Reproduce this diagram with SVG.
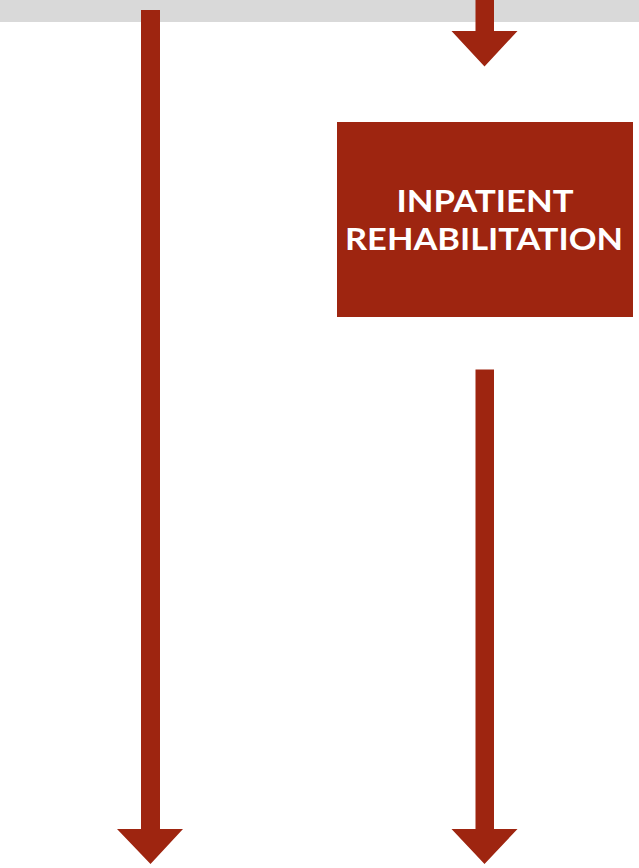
<svg xmlns="http://www.w3.org/2000/svg" width="639" height="868" viewBox="0 0 639 868">
<style>
.arrow{fill:#9E2510}
.box{fill:#9E2510}
.lbl{font-family:Lato,"Open Sans","Liberation Sans",sans-serif;font-weight:bold;font-size:31px;fill:#FFFFFF;text-anchor:middle}
</style>
<rect x="0" y="0" width="639" height="22" fill="#D9D9D9"/>
<g id="connectors">
<polygon class="arrow" points="141,10 160,10 160,829 183,829 150.5,864 117,829 141,829"/>
<polygon class="arrow" points="475.5,0 494,0 494,31 517.5,31 484.5,66.5 451.5,31 475.5,31"/>
<polygon class="arrow" points="475.5,369.5 494,369.5 494,829 517.5,829 484.5,864 451.5,829 475.5,829"/>
</g>
<g id="inpatient-rehabilitation">
<rect class="box" x="337" y="122" width="296" height="195"/>
<text class="lbl" x="485" y="212" textLength="177" lengthAdjust="spacingAndGlyphs">INPATIENT</text>
<text class="lbl" x="484" y="249.5" textLength="278" lengthAdjust="spacingAndGlyphs">REHABILITATION</text>
</g>
</svg>
